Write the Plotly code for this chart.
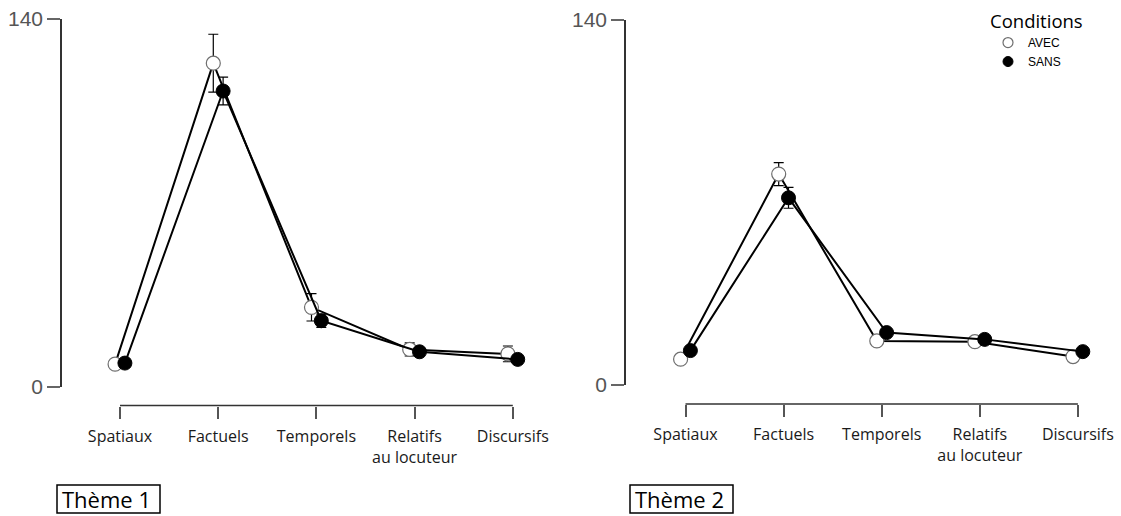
import plotly.graph_objects as go

# ---------------- data ----------------
categories = ["Spatiaux", "Factuels", "Temporels", "Relatifs<br>au locuteur", "Discursifs"]

theme1_avec = [8.7, 123.2, 30.3, 14.3, 12.6]
theme1_avec_err = [1.0, 11.0, 5.2, 2.5, 3.0]
theme1_sans = [9.1, 112.6, 25.2, 13.4, 10.5]
theme1_sans_err = [1.0, 5.3, 2.5, 1.5, 1.5]

theme2_avec = [9.9, 80.9, 16.9, 16.6, 10.9]
theme2_avec_err = [1.0, 4.4, 1.0, 1.5, 1.0]
theme2_sans = [13.2, 71.8, 20.1, 17.5, 12.8]
theme2_sans_err = [1.0, 4.0, 1.0, 1.0, 1.0]

y_ticks = [0, 140]
panel_titles = ["Thème 1", "Thème 2"]
legend_title = "Conditions"
condition_names = ["AVEC", "SANS"]

# ---------------- layout helpers ----------------
W, H = 1121, 516


def fx(p):
    return p / W


def fy(p):
    return 1 - p / H


panels = [
    dict(dom=(62, 545), tick0=120.0, step=98.2, y0=387, y1=19, xline=405.5, box=(57, 160)),
    dict(dom=(626, 1110), tick0=685.5, step=98.1, y0=385, y1=20, xline=404, box=(630, 733)),
]
box_y = (485, 513)
series = [
    (theme1_avec, theme1_avec_err, theme1_sans, theme1_sans_err),
    (theme2_avec, theme2_avec_err, theme2_sans, theme2_sans_err),
]
offset = 0.05
idx = list(range(len(categories)))

avec_marker = dict(color="white", size=14, line=dict(color="#6e6e6e", width=1.2))
sans_marker = dict(color="black", size=14, line=dict(color="black", width=1))

fig = go.Figure()
shapes = []
annotations = []

for i, (p, (av, ave, sa, sae)) in enumerate(zip(panels, series)):
    n = "" if i == 0 else str(i + 1)
    xa, ya = "x" + n, "y" + n
    for vals, errs, mk, sign in ((av, ave, avec_marker, -1), (sa, sae, sans_marker, 1)):
        fig.add_trace(go.Scatter(
            x=[k + sign * offset for k in idx], y=vals,
            mode="lines+markers",
            line=dict(color="black", width=2),
            marker=mk,
            error_y=dict(type="data", array=errs, color="black", thickness=1.2, width=5),
            cliponaxis=False, showlegend=False, hoverinfo="x+y",
            xaxis=xa, yaxis=ya,
        ))
    r0 = (p["dom"][0] - p["tick0"]) / p["step"]
    r1 = (p["dom"][1] - p["tick0"]) / p["step"]
    fig.layout["xaxis" + n] = dict(
        domain=[fx(p["dom"][0]), fx(p["dom"][1])], range=[r0, r1],
        anchor="free", position=fy(p["xline"]), automargin=False,
        tickmode="array", tickvals=idx, ticktext=categories,
        ticks="outside", ticklen=12, tickwidth=1.5, tickcolor="#555",
        showline=False, showgrid=False, zeroline=False,
        tickfont=dict(family="Open Sans", size=16, color="#1a1a1a"),
        ticklabelstandoff=4,
    )
    fig.layout["yaxis" + n] = dict(
        domain=[fy(p["y0"]), fy(p["y1"])], range=[y_ticks[0], y_ticks[-1]],
        anchor=xa, automargin=False, tickmode="array", tickvals=y_ticks,
        ticks="outside", ticklen=13, tickwidth=1.5, tickcolor="#666",
        showline=True, linecolor="#333", linewidth=1.5,
        showgrid=False, zeroline=False,
        tickfont=dict(family="Liberation Sans", size=21, color="#555"),
    )
    # detached x axis line from first to last category
    shapes.append(dict(type="line", xref=xa, yref="paper",
                       x0=idx[0], x1=idx[-1], y0=fy(p["xline"]), y1=fy(p["xline"]),
                       line=dict(color="#333", width=1.5)))
    # panel caption box
    shapes.append(dict(type="rect", xref="paper", yref="paper",
                       x0=fx(p["box"][0]), x1=fx(p["box"][1]),
                       y0=fy(box_y[1]), y1=fy(box_y[0]),
                       line=dict(color="black", width=1.5), fillcolor="white"))
    annotations.append(dict(
        xref="paper", yref="paper", x=fx(p["box"][0] + 3), y=fy(sum(box_y) / 2),
        xanchor="left", yanchor="middle", showarrow=False,
        text=panel_titles[i], font=dict(family="Open Sans", size=22, color="black"),
    ))

# legend-only entries
for name, mk in zip(condition_names, (avec_marker, sans_marker)):
    m = dict(mk)
    m["size"] = 10
    fig.add_trace(go.Scatter(x=[None], y=[None], mode="markers", marker=m, name=name,
                             showlegend=True, xaxis="x2", yaxis="y2"))

fig.update_layout(
    width=W, height=H,
    margin=dict(l=0, r=0, t=0, b=0, autoexpand=False),
    paper_bgcolor="white", plot_bgcolor="white",
    shapes=shapes, annotations=annotations,
    showlegend=True,
    legend=dict(
        x=fx(988), y=fy(4), xanchor="left", yanchor="top",
        bgcolor="rgba(0,0,0,0)", itemsizing="trace",
        title=dict(text=legend_title, side="top",
                   font=dict(family="Open Sans", size=18.5, color="black")),
        font=dict(family="Liberation Sans", size=12, color="black"),
        tracegroupgap=0,
    ),
)

fig.write_html(
    "out.html",
    config={"displayModeBar": False},
    post_script="document.body.style.margin='0';document.body.style.overflow='hidden';",
)
